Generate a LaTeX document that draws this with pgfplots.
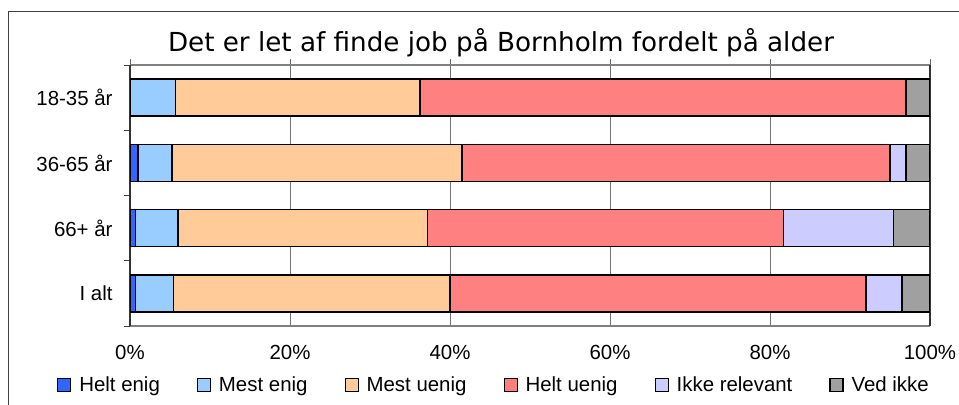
\documentclass[border=0pt]{standalone}
\usepackage{pgfplots}
\pgfplotsset{compat=1.18}
\usepackage{fontspec}
\setmainfont{Liberation Sans}
\newfontfamily\titlefont{DejaVu Sans}
\definecolor{cHE}{HTML}{3366FF}
\definecolor{cME}{HTML}{99CCFF}
\definecolor{cMU}{HTML}{FFCC99}
\definecolor{cHU}{HTML}{FF8080}
\definecolor{cIR}{HTML}{CCCCFF}
\definecolor{cVI}{HTML}{A0A0A0}
\pgfplotsset{sqleg/.style={legend image code/.code={\draw[##1, draw=black, line width=1.1bp] (0bp,-6.5bp) rectangle (13bp,6.5bp);}}}
\begin{document}
\begin{tikzpicture}
\useasboundingbox (0bp,0bp) rectangle (959bp,405bp);
\draw[line width=1bp, black!75] (8bp,0bp) -- (8bp,393bp) -- (959bp,393bp);
\node[anchor=base, font=\titlefont\fontsize{26.3}{30}\selectfont] at (501bp,353bp) {Det er let af finde job på Bornholm fordelt på alder};
\begin{axis}[
  at={(130bp,79bp)}, anchor=south west,
  scale only axis, width=800bp, height=261bp,
  xbar stacked, bar width=0.567,
  xmin=0, xmax=100, ymin=-0.5, ymax=3.5, y dir=reverse,
  xtick={0,20,40,60,80,100},
  xticklabels={0\%,20\%,40\%,60\%,80\%,100\%},
  xtick pos=upper, xticklabel pos=lower,
  ytick={0,1,2,3},
  yticklabels={18-35 år,36-65 år,66+ år,I alt},
  minor ytick={-0.5,0.5,1.5,2.5,3.5},
  ytick pos=left,
  tick align=outside,
  major tick length=6bp, minor tick length=6bp,
  major y tick style={draw=none},
  minor y tick style={black!75, line width=1bp},
  major x tick style={black!60, line width=1bp},
  xmajorgrids, major x grid style={black!55, line width=1bp},
  separate axis lines,
  x axis line style={black!50, line width=1.3bp},
  y axis line style={black!80, line width=1.1bp},
  ticklabel style={font=\fontsize{20.5}{24}\selectfont},
  xticklabel style={yshift=-10bp},
  yticklabel style={xshift=-8bp},
  legend columns=6,
  legend style={at={(-0.09125,-0.226)}, anchor=west, draw=none, fill=none,
    inner sep=0pt, font=\fontsize{20.5}{24}\selectfont,
    /tikz/every odd column/.append style={column sep=6bp},
    /tikz/every even column/.append style={column sep=35bp}},
  every axis plot/.append style={draw=black, line width=1.3bp},
]
\addplot+[fill=cHE, draw=black, sqleg] coordinates {(0,0) (1.0,1) (0.7,2) (0.7,3)};
\addplot+[fill=cME, draw=black, sqleg] coordinates {(5.7,0) (4.25,1) (5.3,2) (4.75,3)};
\addplot+[fill=cMU, draw=black, sqleg] coordinates {(30.55,0) (36.25,1) (31.2,2) (34.55,3)};
\addplot+[fill=cHU, draw=black, sqleg] coordinates {(60.75,0) (53.5,1) (44.5,2) (52.0,3)};
\addplot+[fill=cIR, draw=black, sqleg] coordinates {(0,0) (2.0,1) (13.7,2) (4.5,3)};
\addplot+[fill=cVI, draw=black, sqleg] coordinates {(3.0,0) (3.0,1) (4.6,2) (3.5,3)};
\legend{Helt enig,Mest enig,Mest uenig,Helt uenig,Ikke relevant,Ved ikke}
\end{axis}
\end{tikzpicture}
\end{document}
